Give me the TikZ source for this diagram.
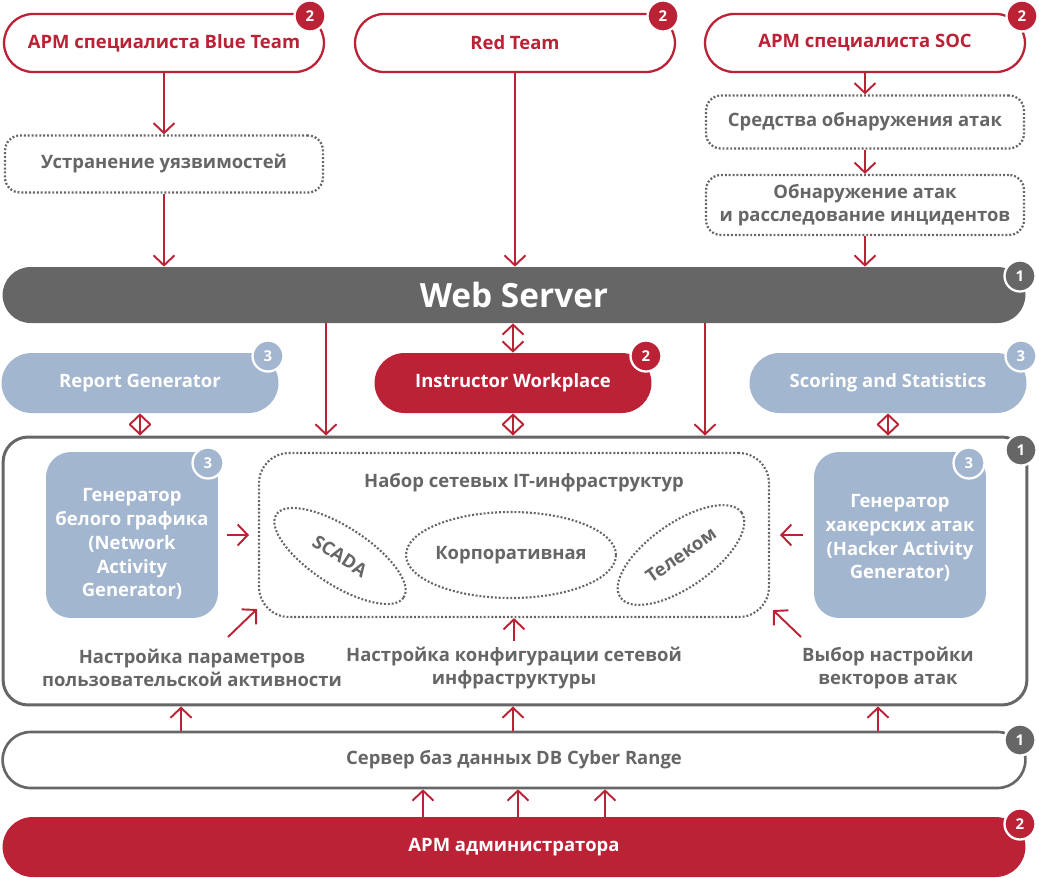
\documentclass[tikz,border=0pt]{standalone}
\usepackage{fontspec}
\setmainfont{Open Sans}
\usepackage{xcolor}
\usepackage{tikz}
\usetikzlibrary{positioning, shapes, arrows.meta, fit, backgrounds}
\definecolor{crimson}{HTML}{BB2236}
\definecolor{slate}{HTML}{666666}
\definecolor{steel}{HTML}{A3B6CF}
\tikzstyle{arrow} = [draw=crimson, line width=1.1pt, -{Straight Barb[length=2mm,width=4.2mm]}]
\tikzstyle{twoway} = [draw=crimson, line width=1.1pt, {Straight Barb[length=2mm,width=4.2mm]}-{Straight Barb[length=2mm,width=4.2mm]}]

\begin{document}
\begin{tikzpicture}[x=0.02cm, y=-0.02cm,
    pill/.style={rectangle, rounded corners=0.58cm, minimum height=1.16cm, inner sep=0, align=center, font=\fontsize{10.5}{13}\selectfont\bfseries},
    redframe/.style={pill, draw=crimson, line width=1.3pt, fill=white, text=crimson, minimum width=6.4cm},
    dotbox/.style={rectangle, draw=slate, line width=1.3pt, dash pattern=on 1.1pt off 1.1pt, rounded corners=0.3cm, text=slate, align=center, inner sep=0, minimum width=6.36cm, font=\fontsize{10.5}{13}\selectfont\bfseries},
    module/.style={pill, fill=steel, text=white, minimum width=5.54cm, minimum height=1.2cm, rounded corners=0.6cm},
    bar/.style={pill, minimum width=20.46cm, minimum height=1.12cm, rounded corners=0.56cm},
    gen/.style={rectangle, fill=steel, rounded corners=0.5cm, minimum width=3.44cm, minimum height=3.32cm, inner sep=0},
    gentext/.style={text=white, align=center, font=\fontsize{10.5}{13.6}\selectfont\bfseries},
    zone/.style={ellipse, draw=slate, line width=1.2pt, dash pattern=on 1.1pt off 1.1pt, inner sep=0},
    note/.style={text=slate, align=center, font=\fontsize{10.5}{13}\selectfont\bfseries},
    badge/.style={circle, fill=#1, draw=white, line width=1.3pt, minimum size=0.62cm, inner sep=0, text=white, font=\fontsize{8.5}{9}\selectfont\bfseries}]

    \useasboundingbox (0,0) rectangle (1039,877);

    % Workplaces on top
    \node[redframe] (bt) at (164,43) {АРМ специалиста Blue Team};
    \node[redframe] (rt) at (515,43) {Red Team};
    \node[redframe] (soc) at (865,43) {АРМ специалиста SOC};

    \node[dotbox, minimum height=1.14cm] (fix) at (164,164) {Устранение уязвимостей};
    \node[dotbox, minimum height=1.06cm] (ids) at (865,122) {Средства обнаружения атак};
    \node[dotbox, minimum height=1.2cm] (inv) at (865,205) {Обнаружение атак\\и расследование инцидентов};

    % Web server and modules
    \node[bar, fill=slate, text=white, font=\fontsize{19}{22}\selectfont\bfseries] (ws) at (514,295) {Web Server};
    \node[module] (rg) at (140,383) {Report Generator};
    \node[module, fill=crimson] (iw) at (513,383) {Instructor Workplace};
    \node[module] (ss) at (888,383) {Scoring and Statistics};

    % Cyber range
    \node[rectangle, draw=slate, line width=1.7pt, rounded corners=0.5cm, minimum width=20.48cm, minimum height=5.36cm] (cont) at (515,571) {};
    \node[gen] (wg) at (132,535) {};
    \node[gentext] (wgt) at (132,544) {Генератор\\белого графика\\(Network\\Activity\\Generator)};
    \node[gen] (hg) at (900,535) {};
    \node[gentext] (hgt) at (900,538) {Генератор\\хакерских атак\\(Hacker Activity\\Generator)};
    \node[rectangle, draw=slate, line width=1.2pt, dash pattern=on 1.1pt off 1.1pt, rounded corners=0.6cm, minimum width=10.2cm, minimum height=3.28cm] (infra) at (514,535) {};
    \node[note] (title) at (524,483) {Набор сетевых IT-инфраструктур};
    \node[zone, minimum width=3.04cm, minimum height=1.16cm, rotate=-33] (scada) at (340,556) {};
    \node[zone, minimum width=4.2cm, minimum height=1.72cm] (corp) at (511,555) {};
    \node[zone, minimum width=2.96cm, minimum height=1.28cm, rotate=35] (tel) at (681,555) {};
    \node[note, rotate=-33] (scadat) at (scada) {SCADA};
    \node[note] (corpt) at (corp) {Корпоративная};
    \node[note, rotate=35] (telt) at (tel) {Телеком};

    \node[note] (ul) at (192,668) {Настройка параметров\\пользовательской активности};
    \node[note] (nl) at (514,668) {Настройка конфигурации сетевой\\инфраструктуры};
    \node[note] (al) at (888,668) {Выбор настройки\\векторов атак};
    \coordinate (ua) at (228,637);
    \coordinate (aa) at (801,637);

    % Database and admin
    \node[bar, fill=white, draw=slate, line width=1.5pt, text=slate] (db) at (514,760) {Сервер баз данных DB Cyber Range};
    \node[bar, fill=crimson, text=white, minimum height=1.2cm, rounded corners=0.6cm] (adm) at (514,847) {АРМ администратора};

    % Arrows - top
    \draw[arrow] (bt) -- (fix);
    \draw[arrow] (fix) -- (fix |- ws.north);
    \draw[arrow] (rt) -- (rt |- ws.north);
    \draw[arrow] (soc) -- (ids);
    \draw[arrow] (ids) -- (inv);
    \draw[arrow] (inv) -- (inv |- ws.north);

    % Arrows - modules
    \draw[twoway] (ws.south -| iw) -- (iw);
    \draw[twoway] (rg) -- (rg |- cont.north);
    \draw[twoway] (iw) -- (iw |- cont.north);
    \draw[twoway] (ss) -- (ss |- cont.north);
    \draw[arrow] (326,0 |- ws.south) -- (326,0 |- cont.north);
    \draw[arrow] (705,0 |- ws.south) -- (705,0 |- cont.north);

    % Arrows - inside the range
    \draw[arrow] ([shift={(9,0)}]wg.east) -- ([shift={(-9,0)}]infra.west);
    \draw[arrow] ([shift={(-11,0)}]hg.west) -- ([shift={(10,0)}]infra.east);
    \draw[arrow] (ua) -- ([shift={(-1,-9)}]infra.south west);
    \draw[arrow] (aa) -- ([shift={(3,-8)}]infra.south east);
    \draw[arrow] (nl.north) -- (infra.south);

    % Arrows - bottom
    \foreach \x in {181,513,878}
        \draw[arrow] (\x,0 |- db.north) -- (\x,0 |- cont.south);
    \foreach \x in {423,518,605}
        \draw[arrow] (\x,0 |- adm.north) -- (\x,0 |- db.south);

    % Badges
    \node[badge=crimson] (n1) at (310,16) {2};
    \node[badge=crimson] (n2) at (663,16) {2};
    \node[badge=crimson] (n3) at (1022,16) {2};
    \node[badge=slate] (n4) at (1020,276) {1};
    \node[badge=steel] (n5) at (268,356) {3};
    \node[badge=crimson] (n6) at (646,356) {2};
    \node[badge=steel] (n7) at (1021,356) {3};
    \node[badge=slate] (n8) at (1021,450) {1};
    \node[badge=steel] (n9) at (208,463) {3};
    \node[badge=steel] (n10) at (969,463) {3};
    \node[badge=slate] (n11) at (1020,740) {1};
    \node[badge=crimson] (n12) at (1020,824) {2};

\end{tikzpicture}
\end{document}
